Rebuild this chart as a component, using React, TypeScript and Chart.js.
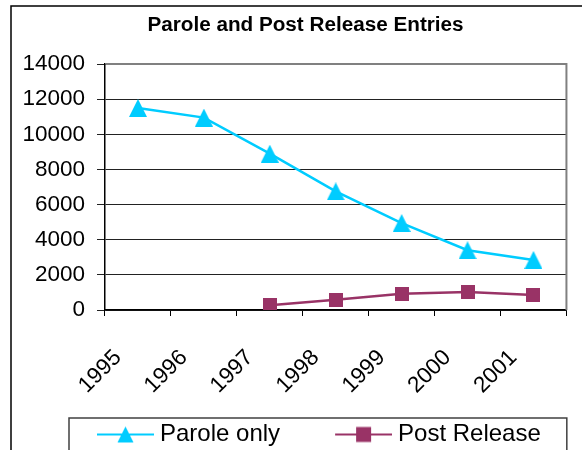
import React, { useEffect, useRef } from 'react';
import { Chart, registerables } from 'chart.js';

Chart.register(...registerables);

// ---- data ----
const years = ['1995', '1996', '1997', '1998', '1999', '2000', '2001'];
const paroleOnly = [11500, 10950, 8900, 6750, 4950, 3400, 2850];
const postRelease = [null, null, 270, 580, 920, 1030, 850];
const seriesLabels = ['Parole only', 'Post Release'];
const yMin = 0;
const yMax = 14000;
const yStep = 2000;
const titleText = 'Parole and Post Release Entries';

// ---- styles ----
const PAROLE = '#00CCFF';
const POST = '#993366';
const FONT = "'Liberation Sans', Arial, Helvetica, sans-serif";
const TICK_SIZE = 22.5;
const LEGEND_BOX_W = 96;
const ICON_W = 57;

function makeCanvas(w: number, h: number) {
  const c = document.createElement('canvas');
  c.width = w;
  c.height = h;
  return c;
}

function drawMarker(ctx: CanvasRenderingContext2D, kind: string, cx: number, cy: number, size: number, color: string) {
  ctx.fillStyle = color;
  if (kind === 'triangle') {
    ctx.beginPath();
    ctx.moveTo(cx, cy - size / 2);
    ctx.lineTo(cx + size / 2, cy + size / 2);
    ctx.lineTo(cx - size / 2, cy + size / 2);
    ctx.closePath();
    ctx.fill();
  } else {
    ctx.fillRect(cx - size / 2, cy - size / 2, size, size);
  }
}

function markerImage(kind: string, color: string, size: number) {
  const c = makeCanvas(size, size);
  drawMarker(c.getContext('2d') as CanvasRenderingContext2D, kind, size / 2, size / 2, size, color);
  return c;
}

function legendIcon(kind: string, color: string, markerSize: number) {
  const totalW = LEGEND_BOX_W + 12;
  const c = makeCanvas(totalW, 20);
  const ctx = c.getContext('2d') as CanvasRenderingContext2D;
  const x0 = totalW - ICON_W;
  ctx.strokeStyle = color;
  ctx.lineWidth = 2;
  ctx.beginPath();
  ctx.moveTo(x0, 10);
  ctx.lineTo(totalW, 10);
  ctx.stroke();
  drawMarker(ctx, kind, x0 + ICON_W / 2, 10, markerSize, color);
  return c;
}

const framePlugin = {
  id: 'frames',
  beforeDraw(chart: any) {
    const ctx = chart.ctx;
    ctx.save();
    ctx.strokeStyle = '#000';
    ctx.lineWidth = 1.5;
    ctx.beginPath();
    ctx.moveTo(11, 460);
    ctx.lineTo(11, 6);
    ctx.lineTo(600, 6);
    ctx.stroke();
    ctx.restore();
  },
  beforeDatasetsDraw(chart: any) {
    const { ctx, chartArea } = chart;
    ctx.save();
    ctx.strokeStyle = '#808080';
    ctx.lineWidth = 2;
    ctx.beginPath();
    ctx.moveTo(chartArea.left + 1, chartArea.top);
    ctx.lineTo(chartArea.right, chartArea.top);
    ctx.lineTo(chartArea.right, chartArea.bottom);
    ctx.stroke();
    ctx.restore();
  },
  afterDraw(chart: any) {
    const lg = chart.legend;
    if (!lg || !lg.legendHitBoxes || !lg.legendHitBoxes.length) return;
    const hb = lg.legendHitBoxes;
    const first = hb[0];
    const last = hb[hb.length - 1];
    const left = first.left + LEGEND_BOX_W - 79;
    const right = last.left + last.width + 26;
    const top = first.top + first.height / 2 - 16.5;
    const ctx = chart.ctx;
    ctx.save();
    ctx.strokeStyle = '#404040';
    ctx.lineWidth = 1.5;
    ctx.beginPath();
    ctx.moveTo(left, 470);
    ctx.lineTo(left, top);
    ctx.lineTo(right, top);
    ctx.lineTo(right, 470);
    ctx.stroke();
    ctx.restore();
  },
};

export default function App() {
  const ref = useRef<HTMLCanvasElement | null>(null);

  useEffect(() => {
    if (!ref.current) return;
    const tri = markerImage('triangle', PAROLE, 18);
    const sq = markerImage('square', POST, 14);
    const icons = [legendIcon('triangle', PAROLE, 16), legendIcon('square', POST, 15)];

    // widest y label, to place right-aligned labels 20px left of the axis
    const mctx = makeCanvas(10, 10).getContext('2d') as CanvasRenderingContext2D;
    mctx.font = `${TICK_SIZE}px ${FONT}`;
    const widest = mctx.measureText(String(yMax)).width;

    const chart = new Chart(ref.current, {
      type: 'line',
      data: {
        labels: years,
        datasets: [
          {
            label: seriesLabels[0],
            data: paroleOnly,
            borderColor: PAROLE,
            backgroundColor: PAROLE,
            borderWidth: 2.5,
            pointStyle: tri as any,
            pointRadius: 10,
            tension: 0,
          },
          {
            label: seriesLabels[1],
            data: postRelease as any,
            borderColor: POST,
            backgroundColor: POST,
            borderWidth: 2.5,
            pointStyle: sq as any,
            pointRadius: 8,
            tension: 0,
          },
        ],
      },
      options: {
        animation: false,
        responsive: true,
        maintainAspectRatio: false,
        devicePixelRatio: 1,
        layout: { padding: { left: 42, right: 13, top: 0, bottom: -6.5 } },
        plugins: {
          tooltip: { enabled: false },
          title: {
            display: true,
            text: titleText,
            color: '#000',
            font: { family: FONT, size: 20.7, weight: 'bold', lineHeight: 1.2 },
            padding: { top: 12.6, bottom: 26.6 },
          },
          legend: {
            display: true,
            position: 'bottom',
            align: 'start',
            labels: {
              usePointStyle: true,
              pointStyleWidth: LEGEND_BOX_W,
              padding: 10,
              color: '#000',
              font: { family: FONT, size: 24 },
              generateLabels: (ch: any) =>
                ch.data.datasets.map((ds: any, i: number) => ({
                  text: ds.label,
                  pointStyle: icons[i],
                  fillStyle: ds.borderColor,
                  strokeStyle: ds.borderColor,
                  lineWidth: 1,
                  hidden: false,
                  datasetIndex: i,
                  fontColor: '#000',
                })),
            },
          },
        },
        scales: {
          x: {
            type: 'category',
            offset: true,
            grid: {
              display: true,
              offset: true,
              drawOnChartArea: false,
              drawTicks: true,
              tickLength: 6,
              color: '#000',
            },
            border: { display: true, color: '#000', width: 1.5 },
            ticks: {
              color: '#000',
              font: { family: FONT, size: TICK_SIZE },
              minRotation: 45,
              maxRotation: 45,
              autoSkip: false,
              padding: 28.5,
              labelOffset: -20,
            },
            afterFit: (scale: any) => {
              scale.height = 102.5;
            },
          },
          y: {
            min: yMin,
            max: yMax,
            grid: {
              color: '#222',
              lineWidth: 1,
              drawTicks: true,
              tickLength: 8,
            },
            border: { display: true, color: '#000', width: 1.5 },
            ticks: {
              stepSize: yStep,
              color: '#000',
              font: { family: FONT, size: TICK_SIZE },
              mirror: true,
              crossAlign: 'far',
              padding: -(20 + widest),
              callback: (v: any) => String(v),
            },
            afterFit: (scale: any) => {
              scale.width = 63;
            },
          },
        },
      } as any,
      plugins: [framePlugin],
    });

    return () => chart.destroy();
  }, []);

  return (
    <div style={{ position: 'fixed', left: 0, top: 0, width: 582, height: 450, background: '#fff' }}>
      <canvas ref={ref} />
    </div>
  );
}
